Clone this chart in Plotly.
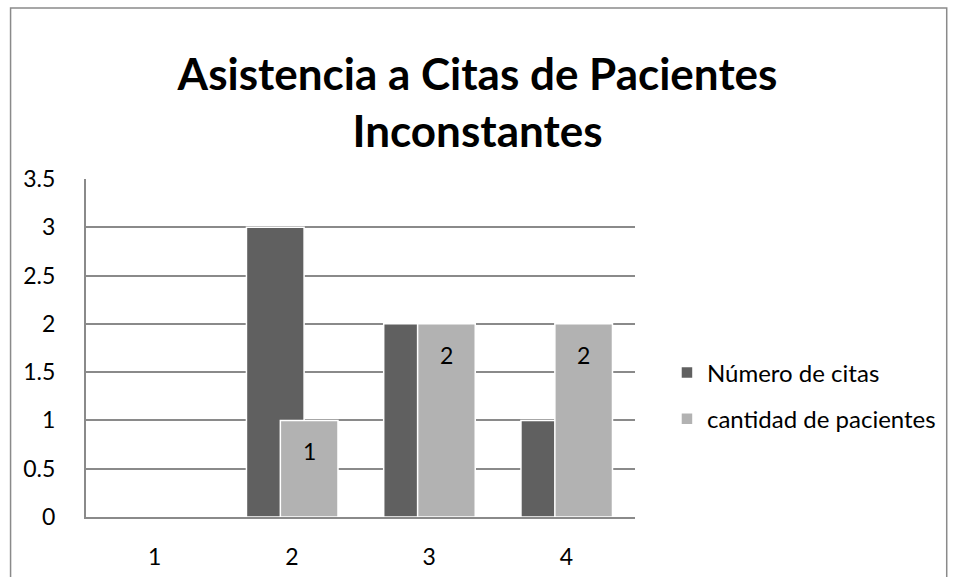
import plotly.graph_objects as go

categories = [1, 2, 3, 4]
numero_citas = [0, 3, 2, 1]
cantidad_pacientes = [0, 1, 2, 2]
label_values = [None, 1, 2, 2]
series_names = ["Número de citas", "cantidad de pacientes"]
y_ticks = [0, 0.5, 1, 1.5, 2, 2.5, 3, 3.5]
y_tick_labels = ["0", "0.5", "1", "1.5", "2", "2.5", "3", "3.5"]
title_text = "Asistencia a Citas de Pacientes<br>Inconstantes"

W, H = 955, 577
L, R, T, B = 85.5, 320, 179, 60
PW, PH = W - L - R, H - T - B

BAR_W = 0.42
OFF_DARK = -0.331
OFF_LIGHT = -0.084
FONT = "Lato"
FS = 23

fig = go.Figure()
fig.add_trace(go.Bar(
    x=categories, y=numero_citas, name=series_names[0],
    width=BAR_W, offset=OFF_DARK,
    marker=dict(color="#606060", line=dict(color="white", width=1.5)),
    legendgroup="a",
))
fig.add_trace(go.Bar(
    x=categories, y=cantidad_pacientes, name=series_names[1],
    width=BAR_W, offset=OFF_LIGHT,
    marker=dict(color="#b2b2b2", line=dict(color="white", width=1.5)),
    legendgroup="b",
))

for c, v in zip(categories, label_values):
    if v is None:
        continue
    fig.add_annotation(
        x=c + OFF_LIGHT + BAR_W / 2, y=v, text=str(v),
        showarrow=False, yshift=-31,
        font=dict(family=FONT, size=FS, color="black"),
    )

def px_x(p):
    return (p - L) / PW

def px_y(p):
    return (H - B - p) / PH

fig.add_shape(
    type="rect", xref="paper", yref="paper",
    x0=px_x(10), x1=px_x(947), y0=px_y(582), y1=px_y(8),
    line=dict(color="#8a8a8a", width=1.5), fillcolor="rgba(0,0,0,0)",
    layer="below",
)

fig.update_layout(
    width=W, height=H,
    margin=dict(l=L, r=R, t=T, b=B, autoexpand=False),
    paper_bgcolor="white", plot_bgcolor="white",
    barmode="overlay",
    title=dict(
        text=title_text, x=0.5, xanchor="center", xref="container",
        y=1 - 90 / H, yanchor="middle", yref="container",
        font=dict(family=FONT, size=44, color="black", weight="bold"),
    ),
    font=dict(family=FONT, size=FS, color="black"),
    xaxis=dict(
        type="linear", range=[0.5, 4.5], tickvals=categories,
        ticktext=[str(c) for c in categories],
        showgrid=False, showline=True, linecolor="#8a8a8a", linewidth=2,
        zeroline=False, ticks="", tickfont=dict(size=FS), ticklabelstandoff=18,
    ),
    yaxis=dict(
        range=[0, 3.5], tickvals=y_ticks, ticktext=y_tick_labels,
        showgrid=True, gridcolor="#8a8a8a", gridwidth=2,
        showline=True, linecolor="#8a8a8a", linewidth=2,
        zeroline=False, ticks="", tickfont=dict(size=FS),
        ticklabelstandoff=24,
    ),
    legend=dict(
        x=px_x(667), xanchor="left", y=px_y(396), yanchor="middle",
        font=dict(size=24), traceorder="grouped", tracegroupgap=12,
        bgcolor="rgba(0,0,0,0)",
    ),
    showlegend=True,
)

fig.write_html("out.html", config={"displayModeBar": False},
               post_script="document.body.style.margin='0';")
